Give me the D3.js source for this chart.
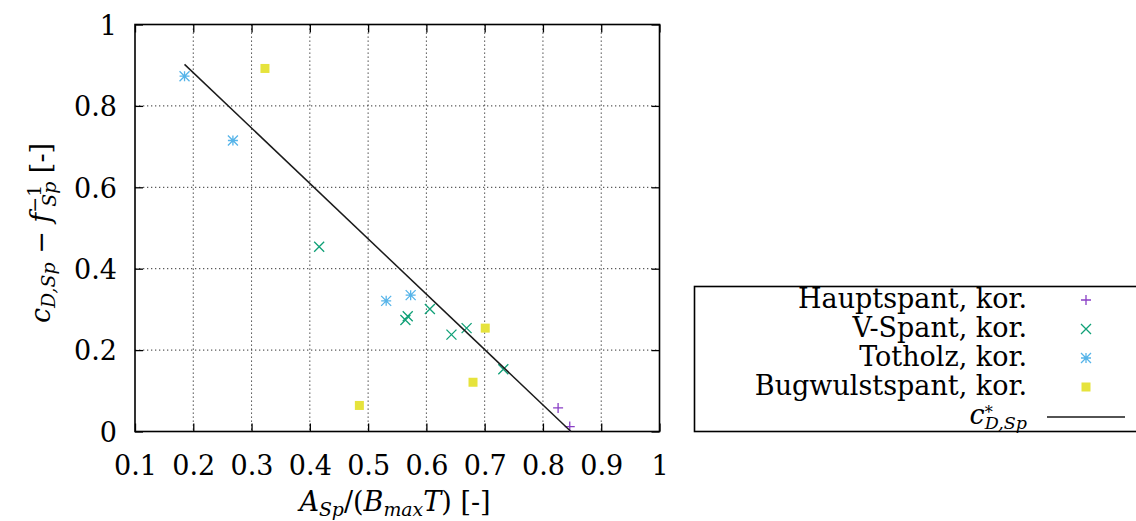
<!DOCTYPE html>
<html>
<head>
<meta charset="utf-8">
<script src="https://cdn.jsdelivr.net/npm/d3@7"></script>
<style>
  html, body { margin: 0; padding: 0; background: #fff; }
  svg text { font-family: "DejaVu Serif", "Times New Roman", Times, serif; fill: #000; }
</style>
</head>
<body>
<svg id="chart" width="1136" height="521"></svg>
<script>
(function () {

// Daten
const seriesNames = ['Hauptspant, kor.', 'V-Spant, kor.', 'Totholz, kor.', 'Bugwulstspant, kor.'];
const seriesColors = ['#8a3fc6', '#10a077', '#56b4e9', '#e6e33c'];
const seriesMarkers = ['plus', 'cross', 'star', 'square'];

const hauptX = [0.826, 0.846];
const hauptY = [0.058, 0.012];
const vX = [0.416, 0.564, 0.568, 0.606, 0.643, 0.669, 0.732];
const vY = [0.454, 0.274, 0.283, 0.301, 0.238, 0.254, 0.153];
const totX = [0.185, 0.268, 0.531, 0.573];
const totY = [0.873, 0.715, 0.321, 0.335];
const bugX = [0.323, 0.485, 0.680, 0.701];
const bugY = [0.892, 0.064, 0.121, 0.254];

// Regressionsgerade c*_{D,Sp}
const fitX = [0.185, 0.848];
const fitY = [0.902, 0.0];

const xTicks = [0.1, 0.2, 0.3, 0.4, 0.5, 0.6, 0.7, 0.8, 0.9, 1];
const yTicks = [0, 0.2, 0.4, 0.6, 0.8, 1];

const series = [
  { xs: hauptX, ys: hauptY },
  { xs: vX, ys: vY },
  { xs: totX, ys: totY },
  { xs: bugX, ys: bugY },
];

// Layout
const L = 135, R = 659.5, T = 24.5, B = 431.5;
const FS = 27;
const FONT = '"DejaVu Serif", "Times New Roman", serif';

const svg = d3.select('#chart');

const x = d3.scaleLinear().domain([0.1, 1]).range([L, R]);
const y = d3.scaleLinear().domain([0, 1]).range([B, T]);

const fmt = d => String(+d.toFixed(1));

// Gitter (gepunktet)
const grid = svg.append('g');
grid.selectAll('line.gx')
  .data(xTicks.slice(1, -1))
  .join('line')
  .attr('x1', d => x(d)).attr('x2', d => x(d))
  .attr('y1', T).attr('y2', B)
  .attr('stroke', '#333').attr('stroke-width', 1)
  .attr('stroke-dasharray', '1.3,2.7');
grid.selectAll('line.gy')
  .data(yTicks.slice(1, -1))
  .join('line')
  .attr('y1', d => y(d)).attr('y2', d => y(d))
  .attr('x1', L).attr('x2', R)
  .attr('stroke', '#333').attr('stroke-width', 1)
  .attr('stroke-dasharray', '1.3,2.7');

// Achsen mit Ticks nach innen
const axB = svg.append('g').attr('transform', `translate(0,${B})`)
  .call(d3.axisBottom(x).tickValues(xTicks).tickFormat(fmt).tickSize(-8).tickPadding(24));
const axT = svg.append('g').attr('transform', `translate(0,${T})`)
  .call(d3.axisTop(x).tickValues(xTicks).tickFormat('').tickSize(-8));
const axL = svg.append('g').attr('transform', `translate(${L},0)`)
  .call(d3.axisLeft(y).tickValues(yTicks).tickFormat(fmt).tickSize(-8).tickPadding(18));
const axR = svg.append('g').attr('transform', `translate(${R},0)`)
  .call(d3.axisRight(y).tickValues(yTicks).tickFormat('').tickSize(-8));

[axB, axT, axL, axR].forEach(a => {
  a.attr('font-family', FONT);
  a.select('.domain').remove();
  a.selectAll('.tick line').attr('stroke', '#000').attr('stroke-width', 1.3);
  a.selectAll('.tick text')
    .style('font-family', FONT)
    .attr('font-size', FS).attr('fill', '#000');
});
axL.selectAll('.tick text').attr('dy', '0.36em');

svg.append('rect')
  .attr('x', L).attr('y', T).attr('width', R - L).attr('height', B - T)
  .attr('fill', 'none').attr('stroke', '#000').attr('stroke-width', 1.6);

// Marker
function marker(g, type, color) {
  const s = 5;
  if (type === 'plus') {
    g.append('path').attr('d', `M${-s},0H${s}M0,${-s}V${s}`)
      .attr('stroke', color).attr('stroke-width', 1.3).attr('fill', 'none');
  } else if (type === 'cross') {
    g.append('path').attr('d', `M${-s},${-s}L${s},${s}M${-s},${s}L${s},${-s}`)
      .attr('stroke', color).attr('stroke-width', 1.3).attr('fill', 'none');
  } else if (type === 'star') {
    g.append('path').attr('d', `M${-s},0H${s}M0,${-s}V${s}M${-s},${-s}L${s},${s}M${-s},${s}L${s},${-s}`)
      .attr('stroke', color).attr('stroke-width', 1.3).attr('fill', 'none');
  } else {
    g.append('rect').attr('x', -4.5).attr('y', -4.5).attr('width', 9).attr('height', 9)
      .attr('fill', color);
  }
}

const plot = svg.append('g');

series.forEach((s, i) => {
  s.xs.forEach((xv, j) => {
    const g = plot.append('g').attr('transform', `translate(${x(xv)},${y(s.ys[j])})`);
    marker(g, seriesMarkers[i], seriesColors[i]);
  });
});

const line = d3.line().x(d => x(d[0])).y(d => y(d[1]));
plot.append('path')
  .datum(fitX.map((v, i) => [v, fitY[i]]))
  .attr('d', line)
  .attr('fill', 'none').attr('stroke', '#1a1a1a').attr('stroke-width', 1.5);

// Mathe-Text als tspans: [text, italic, shift] (shift: 'sub' | 'sup' | null)
function mathText(sel, parts, size) {
  parts.forEach(p => {
    const [t, it, shift] = p;
    const ts = sel.append('tspan').text(t);
    if (it) ts.attr('font-style', 'italic');
    if (shift === 'sub') {
      ts.attr('font-size', size * 0.7).attr('baseline-shift', '-28%');
    } else if (shift === 'sup') {
      ts.attr('font-size', size * 0.7).attr('baseline-shift', '50%');
    }
  });
}

// Achsenbeschriftungen
const xl = svg.append('text')
  .attr('x', 395).attr('y', 511)
  .attr('text-anchor', 'middle').attr('font-size', FS);
mathText(xl, [
  ['A', true], ['Sp', true, 'sub'], ['/(', false], ['B', true], ['max', true, 'sub'],
  ['T', true], [') [-]', false]
], FS);

const yl = svg.append('text')
  .attr('transform', 'translate(50,233) rotate(-90)')
  .attr('text-anchor', 'middle').attr('font-size', FS);
mathText(yl, [
  ['c', true], ['D,Sp', true, 'sub'], [' − ', false], ['f', true], ['−1', false, 'sup']
], FS);
// f_{Sp}^{-1}: tiefgestelltes Sp unter dem Exponenten
yl.append('tspan').attr('dx', -22).attr('font-style', 'italic')
  .attr('font-size', FS * 0.7).attr('baseline-shift', '-30%').text('Sp');
yl.append('tspan').text(' [-]');

// Legende
const lg = svg.append('g');
lg.append('rect')
  .attr('x', 694.5).attr('y', 286.5).attr('width', 460).attr('height', 145)
  .attr('fill', '#fff').attr('stroke', '#000').attr('stroke-width', 1.6);

const rowBase = [308, 337, 366, 395];
seriesNames.forEach((name, i) => {
  lg.append('text')
    .attr('x', 1027).attr('y', rowBase[i])
    .attr('text-anchor', 'end').attr('font-size', FS)
    .text(name);
  const g = lg.append('g').attr('transform', `translate(1086,${rowBase[i] - 8})`);
  marker(g, seriesMarkers[i], seriesColors[i]);
});

const lt = lg.append('text')
  .attr('x', 1027).attr('y', 424)
  .attr('text-anchor', 'end').attr('font-size', FS);
lt.append('tspan').attr('font-style', 'italic').text('c');
lt.append('tspan').attr('font-size', FS * 0.6).attr('baseline-shift', '40%').text('*');
lt.append('tspan').attr('dx', -8).attr('font-style', 'italic')
  .attr('font-size', FS * 0.65).attr('baseline-shift', '-30%').text('D,Sp');

lg.append('line')
  .attr('x1', 1047).attr('x2', 1125).attr('y1', 417).attr('y2', 417)
  .attr('stroke', '#1a1a1a').attr('stroke-width', 1.5);

})();
</script>
</body>
</html>
